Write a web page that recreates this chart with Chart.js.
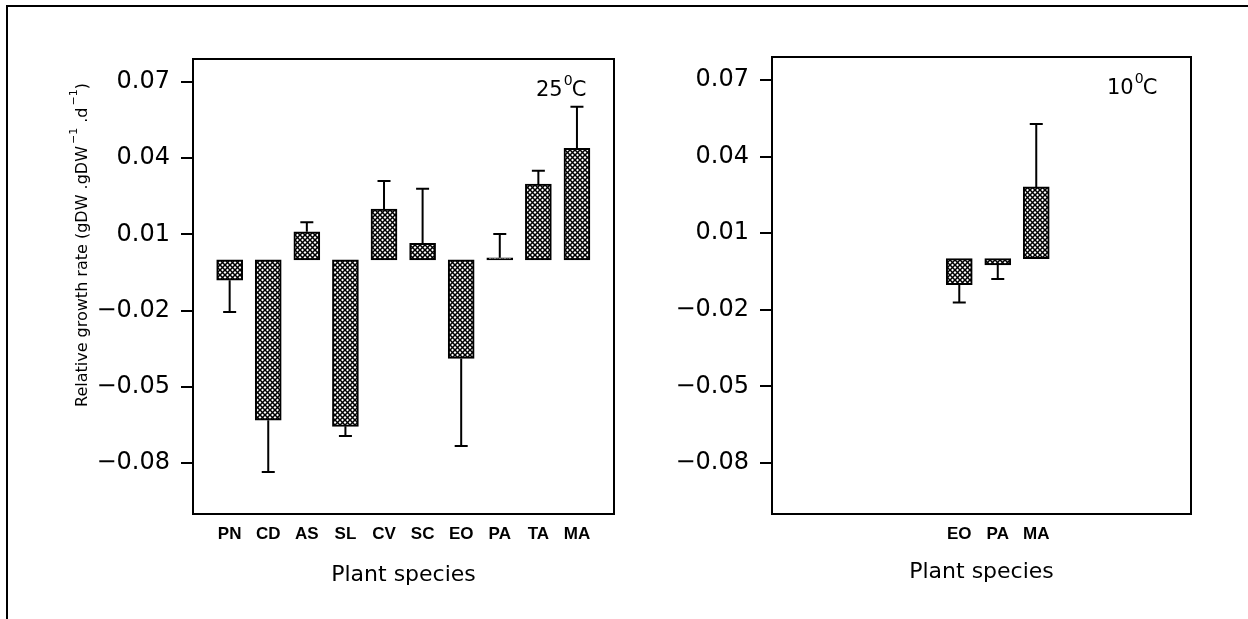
<!DOCTYPE html>
<html>
<head>
<meta charset="utf-8">
<script src="https://cdn.jsdelivr.net/npm/chart.js@4.4.1/dist/chart.umd.min.js"></script>
<style>
  html, body { margin: 0; padding: 0; background: #fff; }
  #wrap { position: relative; width: 1248px; height: 619px; overflow: hidden; background: #fff; }
  #frame { position: absolute; left: 6px; top: 5px; width: 1400px; height: 800px;
           border-top: 2px solid #000; border-left: 2px solid #000; }
  canvas { position: absolute; top: 0; }
  #c25 { left: 0; }
  #c10 { left: 640px; }
</style>
</head>
<body>
<div id="wrap">
  <div id="frame"></div>
  <canvas id="c25" width="640" height="619"></canvas>
  <canvas id="c10" width="608" height="619"></canvas>
</div>
<script>
// ---- data ----
const categories25 = ['PN', 'CD', 'AS', 'SL', 'CV', 'SC', 'EO', 'PA', 'TA', 'MA'];
const rgr25 = [-0.008, -0.0631, 0.011, -0.0655, 0.020, 0.0065, -0.0388, 0.0008, 0.0298, 0.0439];
const se25  = [0.0125, 0.0204, 0.0038, 0.0038, 0.011, 0.0215, 0.0344, 0.0094, 0.0052, 0.0163];

const categories10 = ['EO', 'PA', 'MA'];
const rgr10 = [-0.0102, -0.0024, 0.0281];
const se10  = [0.007, 0.0056, 0.0247];

const tickValues = [-0.08, -0.05, -0.02, 0.01, 0.04, 0.07];
const tickLabels = ['\u22120.08', '\u22120.05', '\u22120.02', '0.01', '0.04', '0.07'];

const xTitle = 'Plant species';
const yTitleParts = [
  { t: 'Relative growth rate (gDW .gDW', sup: false },
  { t: '\u22121', sup: true },
  { t: ' .d', sup: false },
  { t: '\u22121', sup: true },
  { t: ')', sup: false }
];

Chart.defaults.font.family = "'DejaVu Sans', sans-serif";
Chart.defaults.color = '#000';

// cross-hatch pattern
function makeHatch() {
  const s = 5;
  const c = document.createElement('canvas');
  c.width = s; c.height = s;
  const g = c.getContext('2d');
  g.fillStyle = '#fff';
  g.fillRect(0, 0, s, s);
  g.strokeStyle = '#000';
  g.lineWidth = 1.5;
  for (const d of [-s, 0, s]) {
    g.beginPath(); g.moveTo(d, 0); g.lineTo(d + s, s); g.stroke();
    g.beginPath(); g.moveTo(d + s, 0); g.lineTo(d, s); g.stroke();
  }
  return c;
}
const hatchCanvas = makeHatch();

const panelPlugin = {
  id: 'panel',
  afterDatasetsDraw(chart, args, opts) {
    const ctx = chart.ctx;
    const ys = chart.scales.y;
    const meta = chart.getDatasetMeta(0);
    const vals = chart.data.datasets[0].data;
    ctx.save();
    ctx.strokeStyle = '#000';
    ctx.lineWidth = 2;
    meta.data.forEach((bar, i) => {
      const v = vals[i].y;
      const e = opts.errors[i];
      const tip = v >= 0 ? v + e : v - e;
      const y0 = ys.getPixelForValue(v);
      const y1 = ys.getPixelForValue(tip);
      ctx.beginPath();
      ctx.moveTo(bar.x, y0); ctx.lineTo(bar.x, y1);
      ctx.moveTo(bar.x - 6.5, y1); ctx.lineTo(bar.x + 6.5, y1);
      ctx.stroke();
    });
    ctx.restore();
  },
  afterDraw(chart, args, opts) {
    const ctx = chart.ctx;
    const a = chart.chartArea;
    ctx.save();
    ctx.strokeStyle = '#000';
    ctx.lineWidth = 2;
    ctx.strokeRect(a.left, a.top, a.right - a.left, a.bottom - a.top);
    // temperature label
    ctx.fillStyle = '#000';
    ctx.textBaseline = 'alphabetic';
    ctx.textAlign = 'left';
    let x = a.right - opts.tempOffset;
    const base = a.top + 37;
    ctx.font = "21px 'DejaVu Sans'";
    ctx.fillText(opts.temp, x, base);
    x += ctx.measureText(opts.temp).width + 1;
    ctx.font = "14px 'DejaVu Sans'";
    ctx.fillText('0', x, base - 11);
    x += ctx.measureText('0').width - 1;
    ctx.font = "21px 'DejaVu Sans'";
    ctx.fillText('C', x, base);
    // y title
    if (opts.yTitle) {
      ctx.translate(83, 407);
      ctx.rotate(-Math.PI / 2);
      ctx.textBaseline = 'middle';
      let cx = 0;
      yTitleParts.forEach(p => {
        ctx.font = p.sup ? "11px 'DejaVu Sans'" : "16px 'DejaVu Sans'";
        ctx.fillText(p.t, cx + (p.sup ? 2 : 0), p.sup ? -9 : 0);
        cx += ctx.measureText(p.t).width + (p.sup ? 2 : 0);
      });
    }
    ctx.restore();
  }
};

function makeChart(id, cats, vals, errs, cfg) {
  const pattern = document.getElementById(id).getContext('2d').createPattern(hatchCanvas, 'repeat');
  return new Chart(document.getElementById(id), {
    type: 'bar',
    data: {
      datasets: [{
        data: vals.map((v, i) => ({ x: i, y: v })),
        backgroundColor: pattern,
        borderColor: '#000',
        borderWidth: 2,
        borderSkipped: false,
        barThickness: 26
      }]
    },
    options: {
      responsive: false,
      animation: false,
      devicePixelRatio: 1,
      layout: { padding: { top: cfg.padTop, right: cfg.padRight, left: 0, bottom: 0 } },
      plugins: {
        legend: { display: false },
        tooltip: { enabled: false },
        panel: { errors: errs, temp: cfg.temp, tempOffset: cfg.tempOffset, yTitle: cfg.yTitle }
      },
      scales: {
        x: {
          type: 'linear',
          offset: false,
          min: cfg.xMin,
          max: cfg.xMax,
          grid: { display: false, drawTicks: false, offset: false },
          border: { display: false },
          afterBuildTicks: s => { s.ticks = cats.map((c, i) => ({ value: i })); },
          afterFit: s => { s.height = 105; },
          ticks: {
            autoSkip: false, maxRotation: 0, padding: 10,
            font: { family: "'Liberation Sans Narrow', 'Liberation Sans'", size: 17, weight: 'bold' },
            callback: (v) => cats[v]
          },
          title: {
            display: true, text: xTitle,
            font: { size: 22 },
            padding: { top: 0, bottom: cfg.titlePad }
          }
        },
        y: {
          min: -0.1,
          max: 0.079,
          afterBuildTicks: s => { s.ticks = tickValues.map(v => ({ value: v })); },
          afterFit: s => { s.width = cfg.yWidth; },
          grid: { drawOnChartArea: false, drawTicks: true, tickLength: 12, color: '#000', lineWidth: 2 },
          border: { display: true, color: '#000', width: 2 },
          ticks: {
            padding: 11,
            font: { size: 24 },
            callback: (v, i) => tickLabels[i]
          }
        }
      }
    },
    plugins: [panelPlugin]
  });
}

makeChart('c25', categories25, rgr25, se25, {
  padTop: 59, padRight: 26, xMin: -0.95, xMax: 9.96, yWidth: 193,
  temp: '25', tempOffset: 78, yTitle: true, titlePad: 31
});
makeChart('c10', categories10, rgr10, se10, {
  padTop: 57, padRight: 57, xMin: -4.865, xMax: 6.02, yWidth: 132,
  temp: '10', tempOffset: 84, yTitle: false, titlePad: 34
});
</script>
</body>
</html>
